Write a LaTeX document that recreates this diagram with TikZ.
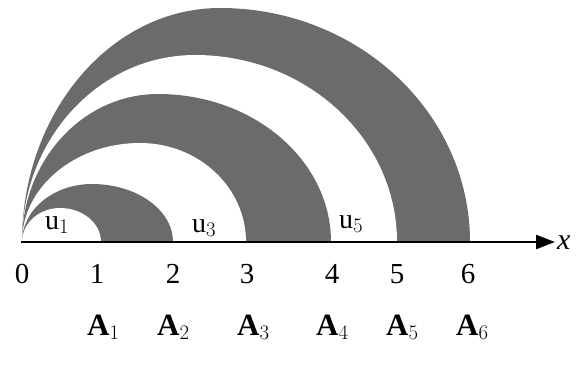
\documentclass[tikz,border=0pt]{standalone}
\usepackage{fontspec}
\setmainfont{Liberation Serif}
\usetikzlibrary{arrows.meta}
\definecolor{bandgray}{RGB}{108,106,106}
\newcommand\halfdome[4]{% style, right end x, top y, top x
  \path[#1] (22,242) .. controls (22,{242-0.5523*(242-#3)}) and ({#4-0.5523*(#4-22)},#3) .. (#4,#3)
    .. controls ({#4+0.5523*(#2-#4)},#3) and (#2,{242-0.5523*(242-#3)}) .. (#2,242) -- cycle;}
\begin{document}
\begin{tikzpicture}[x=1pt,y=-1pt,
  band/.style={fill=bandgray},
  gap/.style={fill=white},
  num/.style={anchor=base,inner sep=0pt,font=\fontsize{29}{29}\selectfont},
  alab/.style={anchor=base west,inner sep=0pt,font=\fontsize{31}{31}\selectfont\bfseries},
  ulab/.style={anchor=base west,inner sep=0pt,font=\fontsize{28}{28}\selectfont}]
\useasboundingbox (0,0) rectangle (576,368);
\halfdome{band}{470}{8}{220}
\halfdome{gap}{397}{55}{195}
\halfdome{band}{331}{94}{158}
\halfdome{gap}{246}{143}{140}
\halfdome{band}{173}{184}{92}
\halfdome{gap}{101}{208}{60}
\coordinate (O) at (21,242);
\coordinate (E) at (555,242);
\draw[line width=2.6pt,-{Triangle[length=19pt,width=14pt]}] (O) -- (E);
\node[anchor=west,inner sep=0pt,font=\fontsize{30}{30}\selectfont\itshape] (xl) at (557,243) {x};
\node[num] (n0) at (22,283) {0};
\node[num] (n1) at (97,283) {1};
\node[num] (n2) at (173,283) {2};
\node[num] (n3) at (247,283) {3};
\node[num] (n4) at (332,283) {4};
\node[num] (n5) at (397,283) {5};
\node[num] (n6) at (468,283) {6};
\node[alab] (a1) at (87,335) {A$_1$};
\node[alab] (a2) at (157,335) {A$_2$};
\node[alab] (a3) at (237,335) {A$_3$};
\node[alab] (a4) at (316,335) {A$_4$};
\node[alab] (a5) at (386,335) {A$_5$};
\node[alab] (a6) at (456,335) {A$_6$};
\node[ulab] (u1) at (45,229) {u$_1$};
\node[ulab] (u3) at (192,232) {u$_3$};
\node[ulab] (u5) at (339,228) {u$_5$};
\end{tikzpicture}
\end{document}
